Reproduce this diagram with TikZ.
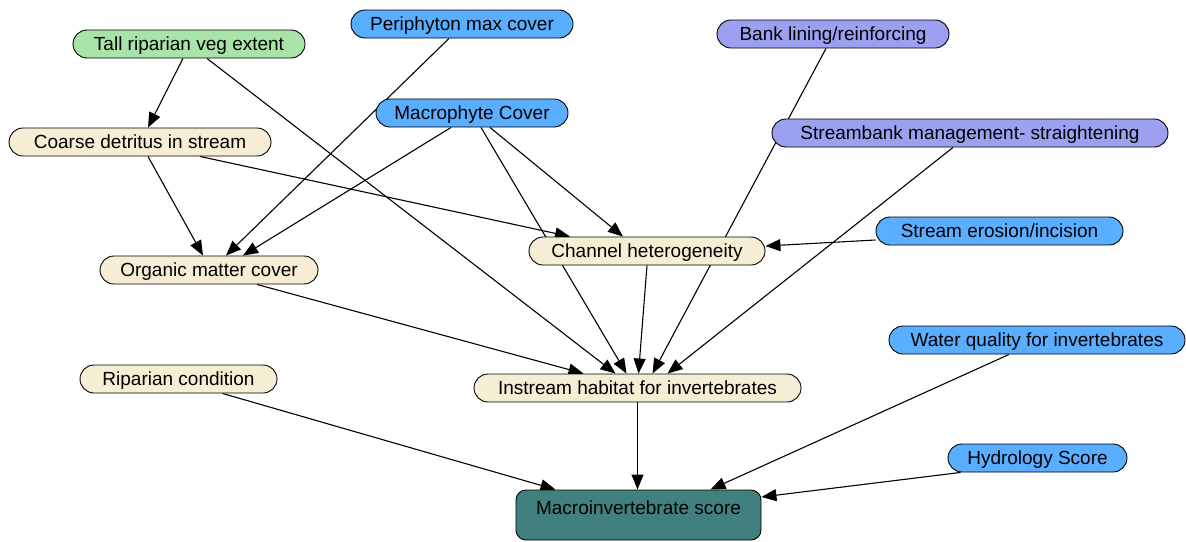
\documentclass[tikz,border=0pt]{standalone}
\usepackage{fontspec}
\setmainfont{Liberation Sans}
\usetikzlibrary{arrows.meta,backgrounds}
\definecolor{vegreen}{RGB}{168,228,168}
\definecolor{skyblue}{RGB}{90,174,255}
\definecolor{lavender}{RGB}{155,160,240}
\definecolor{cream}{RGB}{245,237,212}
\definecolor{scoreteal}{RGB}{66,128,127}

\begin{document}
\begin{tikzpicture}[x=1pt,y=-1pt,
    var/.style={draw,line width=0.9pt,rounded corners=14pt,minimum height=28pt,
      inner sep=0pt,text height=13.6pt,text depth=0pt,font=\fontsize{19}{22}\selectfont},
    link/.style={line width=1.1pt,-{Triangle[length=15pt,width=12pt]}}]
        \useasboundingbox (0,0) rectangle (1186,541);%
        % variables
        \node[var,fill=vegreen,minimum width=232pt] (tall) at (189,44) {Tall riparian veg extent};%
        \node[var,fill=skyblue,minimum width=222pt] (peri) at (462,24) {Periphyton max cover};%
        \node[var,fill=lavender,minimum width=232pt] (bank) at (833,34) {Bank lining/reinforcing};%
        \node[var,fill=skyblue,minimum width=192pt] (mcov) at (472,113) {Macrophyte Cover};%
        \node[var,fill=lavender,minimum width=396pt] (sbank) at (970,133) {Streambank management- straightening};%
        \node[var,fill=cream,minimum width=262pt] (coarse) at (140,142) {Coarse detritus in stream};%
        \node[var,fill=skyblue,minimum width=247pt] (erosion) at (999.5,231) {Stream erosion/incision};%
        \node[var,fill=cream,minimum width=236pt] (channel) at (647,251) {Channel heterogeneity};%
        \node[var,fill=cream,minimum width=218pt] (organic) at (209,270) {Organic matter cover};%
        \node[var,fill=skyblue,minimum width=296pt] (water) at (1037,340) {Water quality for invertebrates};%
        \node[var,fill=cream,minimum width=197pt] (riparian) at (178.5,379) {Riparian condition};%
        \node[var,fill=cream,minimum width=327pt] (instream) at (637.5,388) {Instream habitat for invertebrates};%
        \node[var,fill=skyblue,minimum width=179pt] (hydro) at (1037.5,458) {Hydrology Score};%
        \node[var,fill=scoreteal,rounded corners=10pt,minimum width=245pt,minimum height=50pt,
          text height=14pt,text depth=16pt] (score) at (638.5,515) {Macroinvertebrate score};%
        % links
        \begin{scope}[on background layer]
        \draw[link] ([xshift=-6pt]tall.south) -- ([xshift=8pt]coarse.north);%
        \draw[link] ([xshift=18pt]tall.south) -- ([xshift=-22pt]instream.north);%
        \draw[link] ([xshift=-13pt]peri.south) -- ([xshift=17pt]organic.north);%
        \draw[link] ([xshift=-21pt]mcov.south) -- ([xshift=34pt]organic.north);%
        \draw[link] ([xshift=18pt]mcov.south) -- ([xshift=-24pt]channel.north);%
        \draw[link] ([xshift=9pt]mcov.south) -- ([xshift=-11pt]instream.north);%
        \draw[link] ([xshift=8pt]coarse.south) -- ([xshift=-6pt]organic.north);%
        \draw[link] ([xshift=60pt]coarse.south) -- ([xshift=-77pt]channel.north);%
        \draw[link] ([xshift=-7pt]bank.south) -- ([xshift=15pt]instream.north);%
        \draw[link] ([xshift=-17pt]sbank.south) -- ([xshift=30pt]instream.north);%
        \draw[link] ([yshift=-9pt]erosion.west) -- ([yshift=5pt]channel.east);%
        \draw[link] (channel.south) -- ([xshift=1pt]instream.north);%
        \draw[link] ([xshift=48pt]organic.south) -- ([xshift=-54pt]instream.north);%
        \draw[link] (instream.south) -- (instream.south |- score.north);%
        \draw[link] ([xshift=44pt]riparian.south) -- ([xshift=-83pt]score.north);%
        \draw[link] ([xshift=-28pt]water.south) -- ([xshift=72pt]score.north);%
        \draw[link] ([xshift=-77pt]hydro.south) -- ([yshift=18pt]score.east);%
        \end{scope}
      \end{tikzpicture}
\end{document}
